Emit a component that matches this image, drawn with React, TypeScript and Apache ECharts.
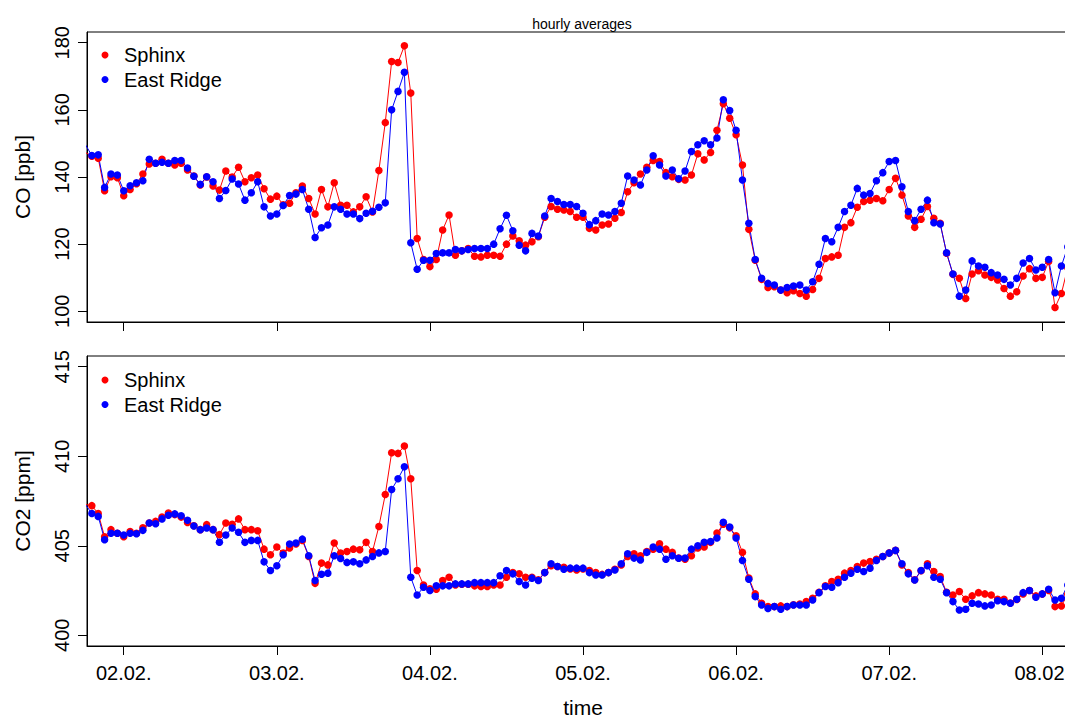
import React, { useEffect, useRef } from "react";
import * as echarts from "echarts";

// hours relative to 02.02. 00:00 of the first hourly average (01.02. 18:00)
const startHour = -6;
const xMin = -5.76;
const xMax = 149.76;
const dayTicks = [0, 24, 48, 72, 96, 120, 144];
const dayLabels = ["02.02.", "03.02.", "04.02.", "05.02.", "06.02.", "07.02.", "08.02."];
const coTicks = [100, 120, 140, 160, 180];
const co2Ticks = [400, 405, 410, 415];
const seriesNames = ["Sphinx", "East Ridge"];

const coSphinx = [
  147.3, 146.2, 145.6, 135.9, 140.1, 139.8, 134.4, 136.3, 138.0, 140.9,
  143.9, 144.1, 145.3, 144.1, 143.6, 144.1, 142.1, 140.3, 137.6, 140.0,
  137.3, 136.1, 141.8, 140.0, 142.9, 138.6, 139.8, 140.6, 136.5, 133.4,
  134.3, 131.7, 132.2, 135.3, 137.3, 133.6, 129.0, 136.3, 131.1, 138.3,
  131.6, 131.6, 129.6, 131.1, 134.1, 129.6, 141.9, 156.2, 174.4, 174.1,
  179.1, 165.0, 121.7, 115.4, 113.3, 115.4, 124.2, 128.7, 116.7, 118.0,
  118.7, 116.4, 116.2, 116.7, 116.7, 116.4, 120.0, 122.4, 121.0, 119.7,
  120.7, 122.2, 128.0, 131.2, 130.4, 130.2, 129.7, 128.0, 128.0, 124.7,
  124.2, 125.7, 126.0, 127.7, 129.4, 135.6, 138.3, 140.9, 142.9, 144.9,
  144.6, 141.3, 140.1, 139.3, 139.1, 140.6, 146.9, 145.1, 147.3, 153.9,
  161.8, 157.5, 152.6, 143.6, 124.4, 115.2, 109.5, 107.1, 107.3, 106.3,
  105.5, 106.1, 105.3, 104.5, 106.5, 109.8, 115.7, 116.2, 116.7, 125.0,
  126.4, 131.0, 132.7, 133.1, 133.6, 132.9, 136.3, 139.6, 134.6, 128.4,
  125.0, 127.4, 131.2, 127.7, 126.2, 117.3, 111.0, 109.8, 103.8, 111.1,
  112.1, 110.8, 110.1, 109.3, 106.8, 104.5, 105.8, 110.5, 112.7, 109.8,
  110.1, 114.8, 101.1, 105.3, 113.0,
];

const coEastRidge = [
  149.6, 146.4, 146.6, 136.9, 140.9, 140.6, 135.9, 137.4, 138.3, 138.9,
  145.3, 144.1, 144.4, 144.1, 144.9, 144.9, 142.7, 140.2, 137.8, 140.1,
  138.6, 133.6, 136.0, 139.4, 137.9, 133.1, 135.3, 138.6, 131.1, 128.4,
  129.0, 131.5, 134.5, 134.9, 136.3, 130.4, 122.0, 124.9, 125.7, 131.1,
  130.4, 129.0, 129.0, 127.6, 129.2, 129.8, 131.0, 132.3, 160.0, 165.5,
  171.2, 120.4, 112.5, 115.2, 115.2, 117.2, 117.4, 117.4, 118.4, 118.0,
  118.4, 118.7, 118.7, 118.7, 120.0, 124.6, 128.6, 124.0, 119.7, 118.0,
  123.2, 122.4, 128.4, 133.6, 132.7, 131.8, 131.8, 131.2, 129.2, 125.8,
  127.0, 129.0, 128.7, 129.7, 132.2, 140.3, 139.1, 137.6, 142.1, 146.3,
  143.6, 140.3, 142.1, 139.5, 141.8, 147.6, 149.6, 150.8, 149.6, 151.6,
  163.0, 159.8, 153.9, 139.1, 126.2, 115.4, 109.8, 108.3, 107.8, 106.3,
  107.1, 107.5, 107.8, 106.3, 108.8, 114.0, 121.7, 120.7, 125.0, 129.7,
  131.6, 136.6, 134.6, 135.1, 138.9, 141.3, 144.6, 144.9, 137.1, 129.7,
  127.0, 130.4, 133.1, 126.4, 126.0, 117.4, 111.1, 104.5, 106.3, 115.0,
  113.5, 113.1, 111.5, 110.8, 109.5, 107.8, 109.8, 114.4, 115.7, 112.3,
  113.1, 115.4, 105.5, 113.5, 119.2,
];

const co2Sphinx = [
  407.3, 407.24, 406.8, 405.5, 405.9, 405.7, 405.5, 405.8, 405.7, 406.0,
  406.27, 406.36, 406.6, 406.83, 406.74, 406.6, 406.3, 406.12, 405.9, 406.18,
  405.9, 405.62, 406.27, 406.2, 406.5, 405.9, 405.9, 405.84, 404.81, 404.5,
  404.93, 404.59, 404.87, 405.1, 405.3, 404.4, 402.9, 404.03, 403.93, 405.15,
  404.59, 404.68, 404.81, 404.78, 405.19, 404.68, 406.08, 407.86, 410.2, 410.16,
  410.57, 408.74, 403.62, 402.81, 402.6, 402.57, 403.06, 403.24, 402.81, 402.85,
  402.85, 402.76, 402.72, 402.72, 402.81, 402.81, 403.24, 403.5, 403.43, 403.24,
  403.24, 403.1, 403.5, 403.88, 403.84, 403.8, 403.7, 403.65, 403.7, 403.62,
  403.5, 403.4, 403.5, 403.69, 403.93, 404.4, 404.55, 404.44, 404.68, 404.81,
  405.11, 404.81, 404.63, 404.31, 404.25, 404.44, 404.87, 404.93, 405.19, 405.71,
  406.2, 406.0, 405.56, 404.63, 403.2, 402.31, 401.79, 401.6, 401.6, 401.64,
  401.6, 401.7, 401.75, 401.88, 402.07, 402.4, 402.76, 403.0, 403.13, 403.47,
  403.62, 403.84, 404.03, 404.12, 404.25, 404.4, 404.6, 404.74, 403.93, 403.5,
  403.1, 403.6, 403.99, 403.56, 403.28, 402.4, 402.25, 402.44, 402.01, 402.2,
  402.38, 402.31, 402.25, 402.01, 402.01, 401.8, 402.0, 402.31, 402.5, 402.2,
  402.3, 402.5, 401.6, 401.64, 402.3,
];

const co2EastRidge = [
  407.3, 406.8, 406.64, 405.34, 405.7, 405.7, 405.6, 405.7, 405.67, 405.86,
  406.27, 406.23, 406.5, 406.7, 406.78, 406.68, 406.42, 406.1, 405.9, 405.99,
  405.9, 405.2, 405.6, 405.99, 405.75, 405.19, 405.3, 405.3, 404.1, 403.62,
  403.88, 404.5, 405.1, 405.15, 405.37, 404.44, 403.06, 403.41, 403.47, 404.44,
  404.29, 404.07, 404.1, 403.99, 404.21, 404.4, 404.6, 404.68, 408.14, 408.74,
  409.41, 403.24, 402.25, 402.68, 402.5, 402.76, 402.76, 402.76, 402.87, 402.87,
  402.87, 402.94, 402.94, 402.94, 402.94, 403.32, 403.62, 403.43, 403.0, 402.81,
  403.19, 403.06, 403.5, 403.99, 403.84, 403.69, 403.75, 403.75, 403.75, 403.5,
  403.37, 403.37, 403.5, 403.65, 403.99, 404.55, 404.31, 404.21, 404.63, 404.93,
  404.81, 404.25, 404.44, 404.3, 404.31, 404.81, 405.0, 405.19, 405.24, 405.43,
  406.31, 406.05, 405.43, 404.18, 403.13, 402.16, 401.69, 401.5, 401.6, 401.45,
  401.6, 401.69, 401.69, 401.69, 401.97, 402.38, 402.72, 402.68, 402.94, 403.24,
  403.47, 403.69, 403.56, 403.75, 404.18, 404.4, 404.59, 404.74, 403.99, 403.43,
  403.09, 403.62, 403.88, 403.24, 403.13, 402.38, 401.88, 401.41, 401.45, 401.79,
  401.75, 401.64, 401.69, 401.93, 401.88, 401.79, 402.01, 402.38, 402.5, 402.12,
  402.31, 402.57, 401.97, 402.07, 402.81,
];

const FONT = "'Liberation Sans', Arial, Helvetica, sans-serif";
const RED = "#FF0000";
const BLUE = "#0000FF";

function toPoints(vals: number[]) {
  return vals.map((v, i) => [startHour + i, v]);
}

function xAxis(gridIndex: number, showLabels: boolean): any {
  return {
    type: "value",
    gridIndex,
    min: xMin,
    max: xMax,
    axisLine: { show: true, onZero: false, lineStyle: { color: "#000", width: 1 } },
    axisTick: {
      show: true,
      customValues: dayTicks,
      length: 9,
      lineStyle: { color: "#000", width: 1 },
    },
    axisLabel: {
      show: showLabels,
      customValues: dayTicks,
      formatter: (v: number) => dayLabels[dayTicks.indexOf(v)] ?? "",
      color: "#000",
      fontSize: 20,
      fontFamily: FONT,
      margin: 17,
    },
    splitLine: { show: false },
    name: showLabels ? "time" : "",
    nameLocation: "middle",
    nameGap: 51,
    nameTextStyle: { color: "#000", fontSize: 21, fontFamily: FONT },
  };
}

function yAxis(gridIndex: number, min: number, max: number, ticks: number[], name: string): any {
  return {
    type: "value",
    gridIndex,
    min,
    max,
    axisLine: { show: true, onZero: false, lineStyle: { color: "#000", width: 1 } },
    axisTick: {
      show: true,
      customValues: ticks,
      length: 9,
      lineStyle: { color: "#000", width: 1 },
    },
    axisLabel: {
      customValues: ticks,
      rotate: 90,
      color: "#000",
      fontSize: 20,
      fontFamily: FONT,
      margin: 15,
    },
    splitLine: { show: false },
    name,
    nameLocation: "middle",
    nameGap: 54,
    nameTextStyle: { color: "#000", fontSize: 21, fontFamily: FONT },
  };
}

function lineSeries(name: string, vals: number[], color: string, idx: number): any {
  return {
    type: "line",
    name,
    xAxisIndex: idx,
    yAxisIndex: idx,
    data: toPoints(vals),
    symbol: "circle",
    symbolSize: 7.5,
    showSymbol: true,
    showAllSymbol: true,
    clip: true,
    color,
    itemStyle: { color },
    lineStyle: { color, width: 1 },
    emphasis: { disabled: true },
  };
}

function legendGraphic(x: number, y: number): any[] {
  const colors = [RED, BLUE];
  const out: any[] = [];
  seriesNames.forEach((n, k) => {
    const cy = y + k * 24.5;
    out.push({
      type: "circle",
      shape: { cx: x, cy, r: 3.5 },
      style: { fill: colors[k] },
      z: 100,
    });
    out.push({
      type: "text",
      x: x + 19,
      y: cy,
      style: {
        text: n,
        fill: "#000",
        font: `20px ${FONT}`,
        textVerticalAlign: "middle",
        verticalAlign: "middle",
      },
      z: 100,
    });
  });
  return out;
}

export default function App() {
  const ref = useRef<HTMLDivElement>(null);
  useEffect(() => {
    if (!ref.current) return;
    const chart = echarts.init(ref.current, undefined, { renderer: "svg" });
    const gridBase = {
      left: 87,
      height: 290,
      right: -14,
      show: true,
      borderColor: "#000",
      borderWidth: 1,
      backgroundColor: "transparent",
      containLabel: false,
      outerBoundsMode: "none",
    };
    chart.setOption({
      animation: false,
      backgroundColor: "#fff",
      grid: [
        { ...gridBase, top: 32 },
        { ...gridBase, top: 356 },
      ],
      xAxis: [xAxis(0, false), xAxis(1, true)],
      yAxis: [
        yAxis(0, 96.8, 183.2, coTicks, "CO [ppb]"),
        yAxis(1, 399.4, 415.6, co2Ticks, "CO2 [ppm]"),
      ],
      series: [
        lineSeries(seriesNames[0], coSphinx, RED, 0),
        lineSeries(seriesNames[1], coEastRidge, BLUE, 0),
        lineSeries(seriesNames[0], co2Sphinx, RED, 1),
        lineSeries(seriesNames[1], co2EastRidge, BLUE, 1),
      ],
      graphic: [
        {
          type: "text",
          x: 582,
          y: 17,
          style: {
            text: "hourly averages",
            fill: "#000",
            font: `14px ${FONT}`,
            textAlign: "center",
            align: "center",
            textVerticalAlign: "top",
            verticalAlign: "top",
          },
        },
        ...legendGraphic(105, 55),
        ...legendGraphic(105, 380),
      ],
    });
    return () => chart.dispose();
  }, []);
  return (
    <div
      ref={ref}
      style={{ position: "fixed", left: 0, top: 0, width: 1065, height: 718, background: "#fff" }}
    />
  );
}
